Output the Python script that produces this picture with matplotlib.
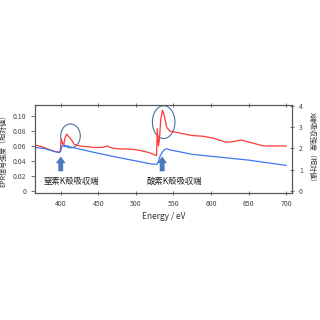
import numpy as np
import matplotlib.pyplot as plt
from matplotlib.patches import Ellipse

plt.rcParams['font.family'] = ['Noto Sans CJK JP', 'DejaVu Sans']

# EPR signal (left axis)
epr_x = [366, 372, 380, 388, 395, 398, 399.5, 400.5, 402, 404, 406, 408, 410, 412, 415,
         418, 425, 435, 445, 455, 462, 466, 470, 480, 490, 500, 510, 518, 525, 527.5,
         528.5, 530, 531.5, 533, 535.5, 538, 541, 545, 550, 560, 575, 590, 605, 620,
         630, 640, 655, 670, 685, 700]
epr_y = [0.061, 0.060, 0.057, 0.054, 0.052, 0.052, 0.054, 0.070, 0.064, 0.062, 0.072, 0.076,
         0.073, 0.071, 0.067, 0.062, 0.060, 0.059, 0.058, 0.058, 0.060, 0.058, 0.057, 0.056,
         0.056, 0.055, 0.053, 0.051, 0.048, 0.047, 0.083, 0.060, 0.070, 0.095, 0.108,
         0.100, 0.085, 0.080, 0.079, 0.077, 0.074, 0.073, 0.070, 0.065, 0.066, 0.068,
         0.064, 0.060, 0.060, 0.060]

# X-ray absorption (right axis)
xas_x = [366, 380, 390, 398, 400, 402, 405, 408, 412, 420, 450, 480, 500, 520, 528,
         530, 532, 535, 538, 541, 545, 550, 575, 600, 650, 700]
xas_y = [2.05, 1.98, 1.87, 1.80, 1.87, 2.16, 2.08, 2.14, 2.08, 2.01, 1.77, 1.55, 1.41,
         1.27, 1.25, 1.40, 1.62, 1.82, 1.94, 1.99, 1.93, 1.90, 1.72, 1.63, 1.45, 1.20]

edge_labels = ['窒素K殻吸収端', '酸素K殻吸収端']
edge_pos = [400, 535]

fig = plt.figure(figsize=(3.2, 3.2), dpi=100)
ax = fig.add_axes([0.11, 0.397, 0.803, 0.275])
ax2 = ax.twinx()

ax.plot(epr_x, epr_y, color='#ff3a3a', lw=0.9)
ax2.plot(xas_x, xas_y, color='#3f78f2', lw=0.9)

ax.set_xlim(366, 708)
ax.set_ylim(-0.003, 0.115)
ax2.set_ylim(-0.1, 4.05)
ax.set_xticks([400, 450, 500, 550, 600, 650, 700])
ax.set_yticks([0, 0.02, 0.04, 0.06, 0.08, 0.10])
ax.set_yticklabels(['0', '0.02', '0.04', '0.06', '0.08', '0.10'])
ax2.set_yticks([0, 1, 2, 3, 4])

gray = '#555555'
for a in (ax, ax2):
    for s in a.spines.values():
        s.set_color(gray)
        s.set_linewidth(0.8)
    a.tick_params(labelsize=5, colors=gray, length=3, width=0.6, labelcolor='#444444')
ax.tick_params(axis='x', direction='inout', top=True)
ax.tick_params(axis='y', direction='out')
ax2.tick_params(axis='y', direction='inout')

ax.set_xlabel('Energy / eV', fontsize=6, color='#333333', labelpad=3)
ax.set_ylabel('EPR信号強度（相対値）', fontsize=5, color='#333333', labelpad=4)
ax2.set_ylabel('X線吸収強度（相対値）', fontsize=5, color='#333333', rotation=270, labelpad=9)

# circles round the edge peaks
ax.add_patch(Ellipse((413, 0.0735), 26, 0.032, fill=False, ec='#4a6fa0', lw=0.8))
ax.add_patch(Ellipse((537, 0.092), 30, 0.044, fill=False, ec='#4a6fa0', lw=0.8))

for lab, xp, xt in zip(edge_labels, edge_pos, [414, 551]):
    ax.annotate('', xy=(xp, 0.046), xytext=(xp, 0.026),
                arrowprops=dict(arrowstyle='simple,head_width=1.0,head_length=0.7,tail_width=0.5',
                                mutation_scale=7, color='#4a7ab8', lw=0,
                                shrinkA=0, shrinkB=0))
    ax.text(xt, 0.0125, lab, fontsize=6, ha='center', va='center', color='#222222')

fig.savefig('out.png', dpi=100)
